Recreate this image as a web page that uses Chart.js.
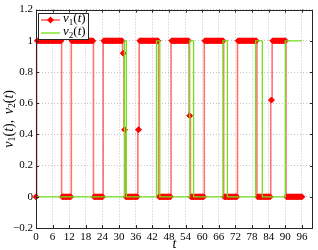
<!DOCTYPE html>
<html>
<head>
<meta charset="utf-8">
<script src="https://cdn.jsdelivr.net/npm/chart.js@4.4.1/dist/chart.umd.min.js"></script>
<style>
  html, body { margin: 0; padding: 0; background: #fff; }
  #wrap { width: 318px; height: 250px; position: relative; }
</style>
</head>
<body>
<div id="wrap"><canvas id="chart"></canvas></div>
<script>
const X_TICKS = [0, 6, 12, 18, 24, 30, 36, 42, 48, 54, 60, 66, 72, 78, 84, 90, 96];
const Y_TICKS = [-0.2, 0, 0.2, 0.4, 0.6, 0.8, 1, 1.2];

// v1(t): sampled series (markers)
const T1 = [
  0, 0.5, 1, 1.5, 2, 2.5, 3, 3.5, 4, 4.5, 5, 5.5, 6, 6.5, 7, 7.5, 8, 8.5, 9, 9.5,
  10, 10.5, 11, 11.5, 12, 12.5, 13, 13.5, 14, 14.5, 15, 15.5, 16, 16.5, 17, 17.5, 18, 18.5, 19, 19.5,
  20, 20.5, 21, 21.5, 22, 22.5, 23, 23.5, 24, 24.5, 25, 25.5, 26, 26.5, 27, 27.5, 28, 28.5, 29, 29.5,
  30, 30.5, 31, 31.5, 32, 32.5, 33, 33.5, 34, 34.5, 35, 35.5, 36, 36.5, 37, 37.5, 38, 38.5, 39, 39.5,
  40, 40.5, 41, 41.5, 42, 42.5, 43, 43.5, 44, 44.5, 45, 45.5, 46, 46.5, 47, 47.5, 48, 48.5, 49, 49.5,
  50, 50.5, 51, 51.5, 52, 52.5, 53, 53.5, 54, 54.5, 55, 55.5, 56, 56.5, 57, 57.5, 58, 58.5, 59, 59.5,
  60, 60.5, 61, 61.5, 62, 62.5, 63, 63.5, 64, 64.5, 65, 65.5, 66, 66.5, 67, 67.5, 68, 68.5, 69, 69.5,
  70, 70.5, 71, 71.5, 72, 72.5, 73, 73.5, 74, 74.5, 75, 75.5, 76, 76.5, 77, 77.5, 78, 78.5, 79, 79.5,
  80, 80.5, 81, 81.5, 82, 82.5, 83, 83.5, 84, 84.5, 85, 85.5, 86, 86.5, 87, 87.5, 88, 88.5, 89, 89.5,
  90, 90.5, 91, 91.5, 92, 92.5, 93, 93.5, 94, 94.5, 95, 95.5, 96
];
const V1 = [
  0, 1, 1, 1, 1, 1, 1, 1, 1, 1, 1, 1, 1, 1, 1, 1, 1, 1, 1, 0,
  0, 0, 0, 0, 0, 0, 1, 1, 1, 1, 1, 1, 1, 1, 1, 1, 1, 1, 1, 1,
  1, 1, 0, 0, 0, 0, 0, 0, 0, 1, 1, 1, 1, 1, 1, 1, 1, 1, 1, 1,
  1, 1, 1, 0.92, 0.43, 0, 0, 0, 0, 0, 0, 0, 0, 0, 0.43, 1, 1, 1, 1, 1,
  1, 1, 1, 1, 1, 1, 1, 1, 1, 0, 0, 0, 0, 0, 0, 0, 0, 0, 1, 1,
  1, 1, 1, 1, 1, 1, 1, 1, 1, 1, 1, 0.52, 0, 0, 0, 0, 0, 0, 0, 0,
  0, 0, 1, 1, 1, 1, 1, 1, 1, 1, 1, 1, 1, 1, 1, 1, 0, 0, 0, 0,
  0, 0, 0, 0, 0, 0, 1, 1, 1, 1, 1, 1, 1, 1, 1, 1, 1, 1, 1, 1,
  0, 0, 0, 0, 0, 0, 0, 0, 0, 0, 0.62, 1, 1, 1, 1, 1, 1, 1, 1, 1,
  1, 0, 0, 0, 0, 0, 0, 0, 0, 0, 0, 0, 0
];

// v2(t): step signal (line only)
const T2 = [0, 31.9, 31.9, 32.6, 32.6, 43.5, 43.5, 44.7, 44.7, 55.5, 55.5, 56.9, 56.9,
            67.5, 67.5, 69.1, 69.1, 79.3, 79.3, 81.7, 81.7, 90, 90, 96];
const V2 = [0, 0, 1, 1, 0, 0, 1, 1, 0, 0, 1, 1, 0,
            0, 1, 1, 0, 0, 1, 1, 0, 0, 1, 1];

const SERIES_NAMES = ['v1(t)', 'v2(t)'];
const X_TITLE = 't';
const Y_TITLE = 'v1(t), v2(t)';

const RED = '#ff0000';
const GREEN = '#72e01a';
const AXIS = '#262626';
const SERIF = "'Liberation Serif', 'DejaVu Serif', serif";

function diamond(ctx, x, y, r, color) {
  ctx.beginPath();
  ctx.moveTo(x, y - r);
  ctx.lineTo(x + r, y);
  ctx.lineTo(x, y + r);
  ctx.lineTo(x - r, y);
  ctx.closePath();
  ctx.fillStyle = color;
  ctx.fill();
}

// math-like text: letters italic, a digit after a letter is a subscript
function mathParts(str) {
  return str.split('').map((c, i) => ({
    c,
    italic: /[a-z]/.test(c),
    sub: /[0-9]/.test(c) && i > 0 && /[a-z]/.test(str[i - 1])
  }));
}
function drawMath(ctx, str, x, y, size, align) {
  const parts = mathParts(str);
  const fontOf = p => (p.italic ? 'italic ' : '') + (p.sub ? size * 0.7 : size) + 'px ' + SERIF;
  let total = 0;
  parts.forEach(p => { ctx.font = fontOf(p); p.w = ctx.measureText(p.c).width + (p.c === ',' ? 2 : 0); total += p.w; });
  let cx = align === 'center' ? x - total / 2 : x;
  ctx.textAlign = 'left';
  ctx.textBaseline = 'middle';
  parts.forEach(p => {
    ctx.font = fontOf(p);
    ctx.fillText(p.c, cx, p.sub ? y + size * 0.28 : y);
    cx += p.w;
  });
}

// frame box with inward ticks on all sides, plus the y title
const framePlugin = {
  id: 'frame',
  afterDraw(chart) {
    const { ctx, chartArea: a, scales } = chart;
    ctx.save();
    ctx.strokeStyle = AXIS;
    ctx.lineWidth = 1;
    ctx.strokeRect(Math.round(a.left) + 0.5, Math.round(a.top) + 0.5,
      Math.round(a.right - a.left) - 1, Math.round(a.bottom - a.top));
    ctx.beginPath();
    scales.x.ticks.forEach(t => {
      const px = Math.round(scales.x.getPixelForValue(t.value)) + 0.5;
      ctx.moveTo(px, a.bottom); ctx.lineTo(px, a.bottom - 3);
      ctx.moveTo(px, a.top); ctx.lineTo(px, a.top + 3);
    });
    scales.y.ticks.forEach(t => {
      const py = Math.round(scales.y.getPixelForValue(t.value)) + 0.5;
      ctx.moveTo(a.left, py); ctx.lineTo(a.left + 3, py);
      ctx.moveTo(a.right, py); ctx.lineTo(a.right - 3, py);
    });
    ctx.stroke();

    ctx.translate(9, (a.top + a.bottom) / 2);
    ctx.rotate(-Math.PI / 2);
    ctx.fillStyle = '#000';
    drawMath(ctx, Y_TITLE, 0, 0, 14, 'center');
    ctx.restore();
  }
};

// boxed legend inside the top-left corner
const legendPlugin = {
  id: 'boxLegend',
  afterDraw(chart) {
    const { ctx, chartArea: a } = chart;
    const x0 = Math.round(a.left) + 2, y0 = Math.round(a.top) + 3;
    const w = 50, h = 26;
    ctx.save();
    ctx.fillStyle = '#fff';
    ctx.fillRect(x0, y0, w, h);
    ctx.strokeStyle = AXIS;
    ctx.lineWidth = 1;
    ctx.strokeRect(x0 + 0.5, y0 + 0.5, w, h);
    chart.data.datasets.forEach((ds, i) => {
      const y = y0 + 7 + i * 13;
      ctx.strokeStyle = ds.pointRadius ? RED : ds.borderColor;
      ctx.lineWidth = ds.pointRadius ? 1 : ds.borderWidth;
      ctx.beginPath();
      ctx.moveTo(x0 + 3, y);
      ctx.lineTo(x0 + 22, y);
      ctx.stroke();
      if (ds.pointRadius) diamond(ctx, x0 + 12.5, y, ds.pointRadius + 0.5, ds.pointBackgroundColor);
      ctx.fillStyle = '#000';
      drawMath(ctx, ds.label, x0 + 25, y - 1, 13, 'left');
    });
    ctx.restore();
  }
};

const gridStyle = { color: '#c4c4c4', lineWidth: 1, drawTicks: false };
const tickFont = { family: SERIF, size: 11 };

new Chart(document.getElementById('chart'), {
  type: 'line',
  data: {
    datasets: [
      {
        label: SERIES_NAMES[0],
        data: T1.map((t, i) => ({ x: t, y: V1[i] })),
        borderColor: 'rgba(255,40,40,0.65)',
        borderWidth: 1.6,
        stepped: 'middle',
        pointStyle: 'rectRot',
        pointRadius: 3,
        pointBackgroundColor: RED,
        pointBorderColor: RED,
        pointBorderWidth: 1,
        clip: false,
        order: 1
      },
      {
        label: SERIES_NAMES[1],
        data: T2.map((t, i) => ({ x: t, y: V2[i] })),
        borderColor: GREEN,
        borderWidth: 1.3,
        pointRadius: 0,
        order: 0
      }
    ]
  },
  options: {
    responsive: true,
    maintainAspectRatio: false,
    animation: false,
    layout: { padding: { top: 7, right: 5, left: 0, bottom: 0 } },
    plugins: { legend: { display: false }, tooltip: { enabled: false } },
    scales: {
      x: {
        type: 'linear',
        min: 0,
        max: 100,
        afterBuildTicks: s => { s.ticks = X_TICKS.map(v => ({ value: v })); },
        afterFit: s => { s.height = 22; },
        grid: gridStyle,
        border: { display: false, dash: [1, 2] },
        ticks: { font: tickFont, color: '#000', padding: 3, maxRotation: 0, autoSkip: false },
        title: { display: true, text: X_TITLE, font: { family: SERIF, size: 14, style: 'italic' }, color: '#000', padding: { top: 0, bottom: -3 } }
      },
      y: {
        type: 'linear',
        min: -0.2,
        max: 1.2,
        afterBuildTicks: s => { s.ticks = Y_TICKS.map(v => ({ value: v })); },
        afterFit: s => { s.width = 36; },
        grid: gridStyle,
        border: { display: false, dash: [1, 2] },
        ticks: {
          font: tickFont, color: '#000', padding: 3, autoSkip: false,
          callback: v => String(Math.round(v * 10) / 10).replace('-', '\u2212')
        }
      }
    }
  },
  plugins: [framePlugin, legendPlugin]
});
</script>
</body>
</html>
